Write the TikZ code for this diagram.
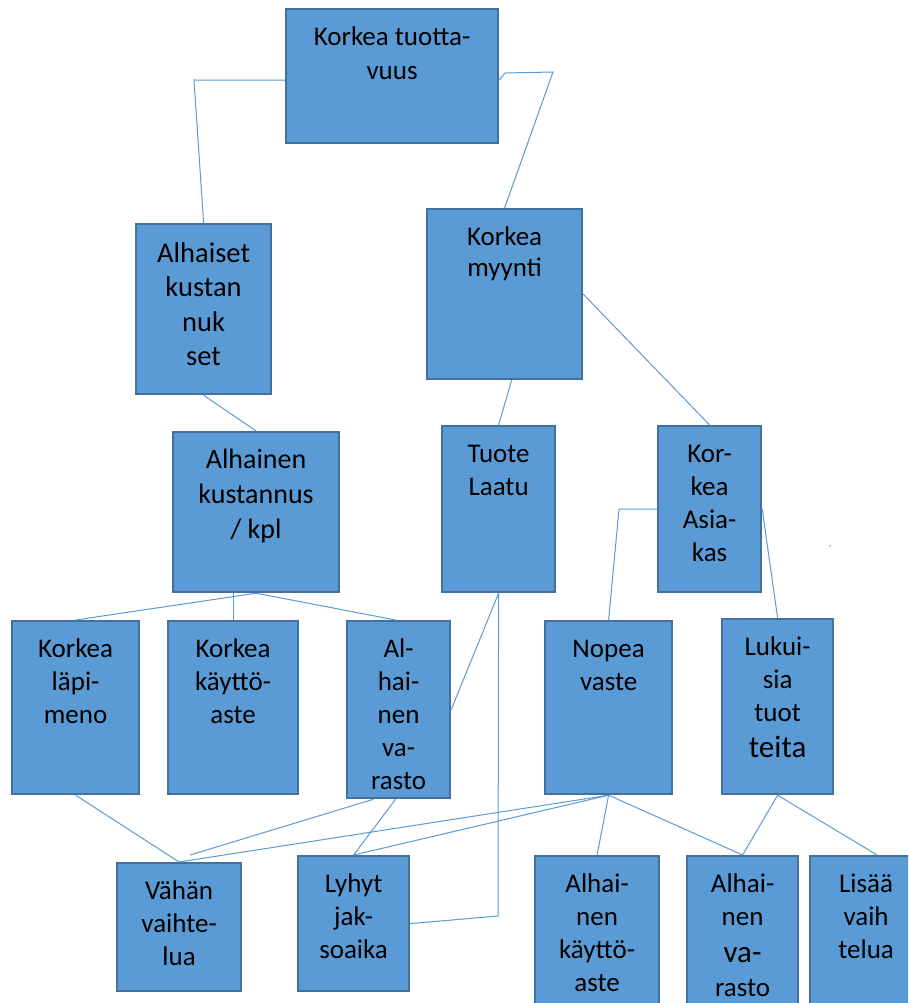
\documentclass[tikz,border=0pt]{standalone}
\usepackage{fontspec}
\setmainfont{Carlito}
\usetikzlibrary{calc}

\definecolor{boxfill}{HTML}{5B9BD5}
\definecolor{boxedge}{HTML}{41719C}
\definecolor{wirecol}{HTML}{5B9BD5}

% box with its text set from the top edge down; optional arg tweaks the text
\newcommand{\mkbox}[7][]{%
  \node[blk, minimum width=#5pt, minimum height=#6pt] (#2) at (#3,#4) {};
  \node[lbl, #1] (#2-txt) at ([yshift=-17pt]#2.north) {\rule{0pt}{20pt}#7};
}

\begin{document}
\begin{tikzpicture}[x=1pt,y=-1pt,
  blk/.style={draw=boxedge, fill=boxfill, line width=2.2pt, inner sep=0pt, anchor=north west},
  lbl/.style={align=center, inner sep=0pt, anchor=north, text=black,
              font=\fontsize{27}{33}\selectfont},
  wire/.style={draw=wirecol, line width=1pt}]

\useasboundingbox (0,0) rectangle (908,1003);
\fill[white] (0,0) rectangle (908,1003);
\clip (0,0) rectangle (908,1003);

% boxes
\mkbox[font=\fontsize{27}{34}\selectfont]{T}{285}{8}{212}{134}{Korkea tuotta-\\vuus}
\mkbox[font=\fontsize{28.5}{34.5}\selectfont, yshift=-2pt]{AK}{135}{223}{135}{170}{Alhaiset\\kustan\\nuk\\set}
\mkbox[font=\fontsize{27}{31.5}\selectfont]{KM}{426}{208}{155}{170}{Korkea\\myynti}
\mkbox[font=\fontsize{28}{35}\selectfont]{AKK}{172}{431}{166}{160}{Alhainen\\kustannus\\/ kpl}
\mkbox{TL}{441}{425}{113}{166}{Tuote\\Laatu}
\mkbox{KA}{657}{425}{103}{166}{Kor-\\kea\\Asia-\\kas}
\mkbox{KLM}{11}{620}{127}{173}{Korkea\\läpi-\\meno}
\mkbox{KKA}{167}{620}{130}{173}{Korkea\\käyttö-\\aste}
\mkbox{AV1}{346}{620}{103}{177}{Al-\\hai-\\nen\\va-\\rasto}
\mkbox{NV}{544}{620}{127}{173}{Nopea\\vaste}
\mkbox{LT}{721}{618}{111}{175}{Lukui-\\sia\\tuot\\[3pt]{\fontsize{31}{33}\selectfont teita}}
\mkbox{VV}{116}{862}{124}{128}{Vähän\\vaihte-\\lua}
\mkbox{LJ}{297}{855}{111}{135}{Lyhyt\\jak-\\soaika}
\mkbox{AKA}{534}{855}{124}{175}{Alhai-\\nen\\käyttö-\\aste}
\mkbox{AV2}{686}{855}{111}{175}{Alhai-\\nen\\[4pt]{\fontsize{31}{33}\selectfont va-}\\[1pt]rasto}
\mkbox{LV}{809}{855}{112}{175}{Lisää\\vaih\\telua}

% bend points
\coordinate (c1) at (194,80);
\coordinate (c2) at (505,73);
\coordinate (c3) at (553,72);
\coordinate (c4) at (619,509);
\coordinate (c5) at (498,916);

% connectors
\draw[wire] ([yshift=-4pt]T.west) -- (c1) -- (AK.north);
\draw[wire] ([yshift=-4pt]T.east) -- (c2) -- (c3) -- (KM.north);
\draw[wire] (AK.south) -- (AKK.north);
\draw[wire] ([xshift=7pt]KM.south) -- (TL.north);
\draw[wire] (KM.east) -- (KA.north);
\draw[wire] (KA.west) -- (c4) -- (NV.north);
\draw[wire] (KA.east) -- (LT.north);
\draw[wire] (AKK.south) -- (KLM.north);
\draw[wire] (AKK.south -| KKA.north) -- (KKA.north);
\draw[wire] (AKK.south) -- ([xshift=-3pt]AV1.north);
\draw[wire] (TL.south) -- (AV1.east);
\draw[wire] (TL.south) -- (c5) -- (LJ.east);
\draw[wire] (KLM.south) -- (VV.north);
\draw[wire] ([xshift=-25pt]AV1.south) -- ([xshift=11pt,yshift=7pt]VV.north);
\draw[wire] ([xshift=-3pt]AV1.south) -- (LJ.north);
\draw[wire] (NV.south) -- (VV.north);
\draw[wire] (NV.south) -- (LJ.north);
\draw[wire] (NV.south) -- (AKA.north);
\draw[wire] (NV.south) -- (AV2.north);
\draw[wire] (LT.south) -- (AV2.north);
\draw[wire] (LT.south) -- ([xshift=11pt]LV.north);

% stray speck right of the customer box
\fill[wirecol] (830,546) circle (0.8);
\end{tikzpicture}
\end{document}
